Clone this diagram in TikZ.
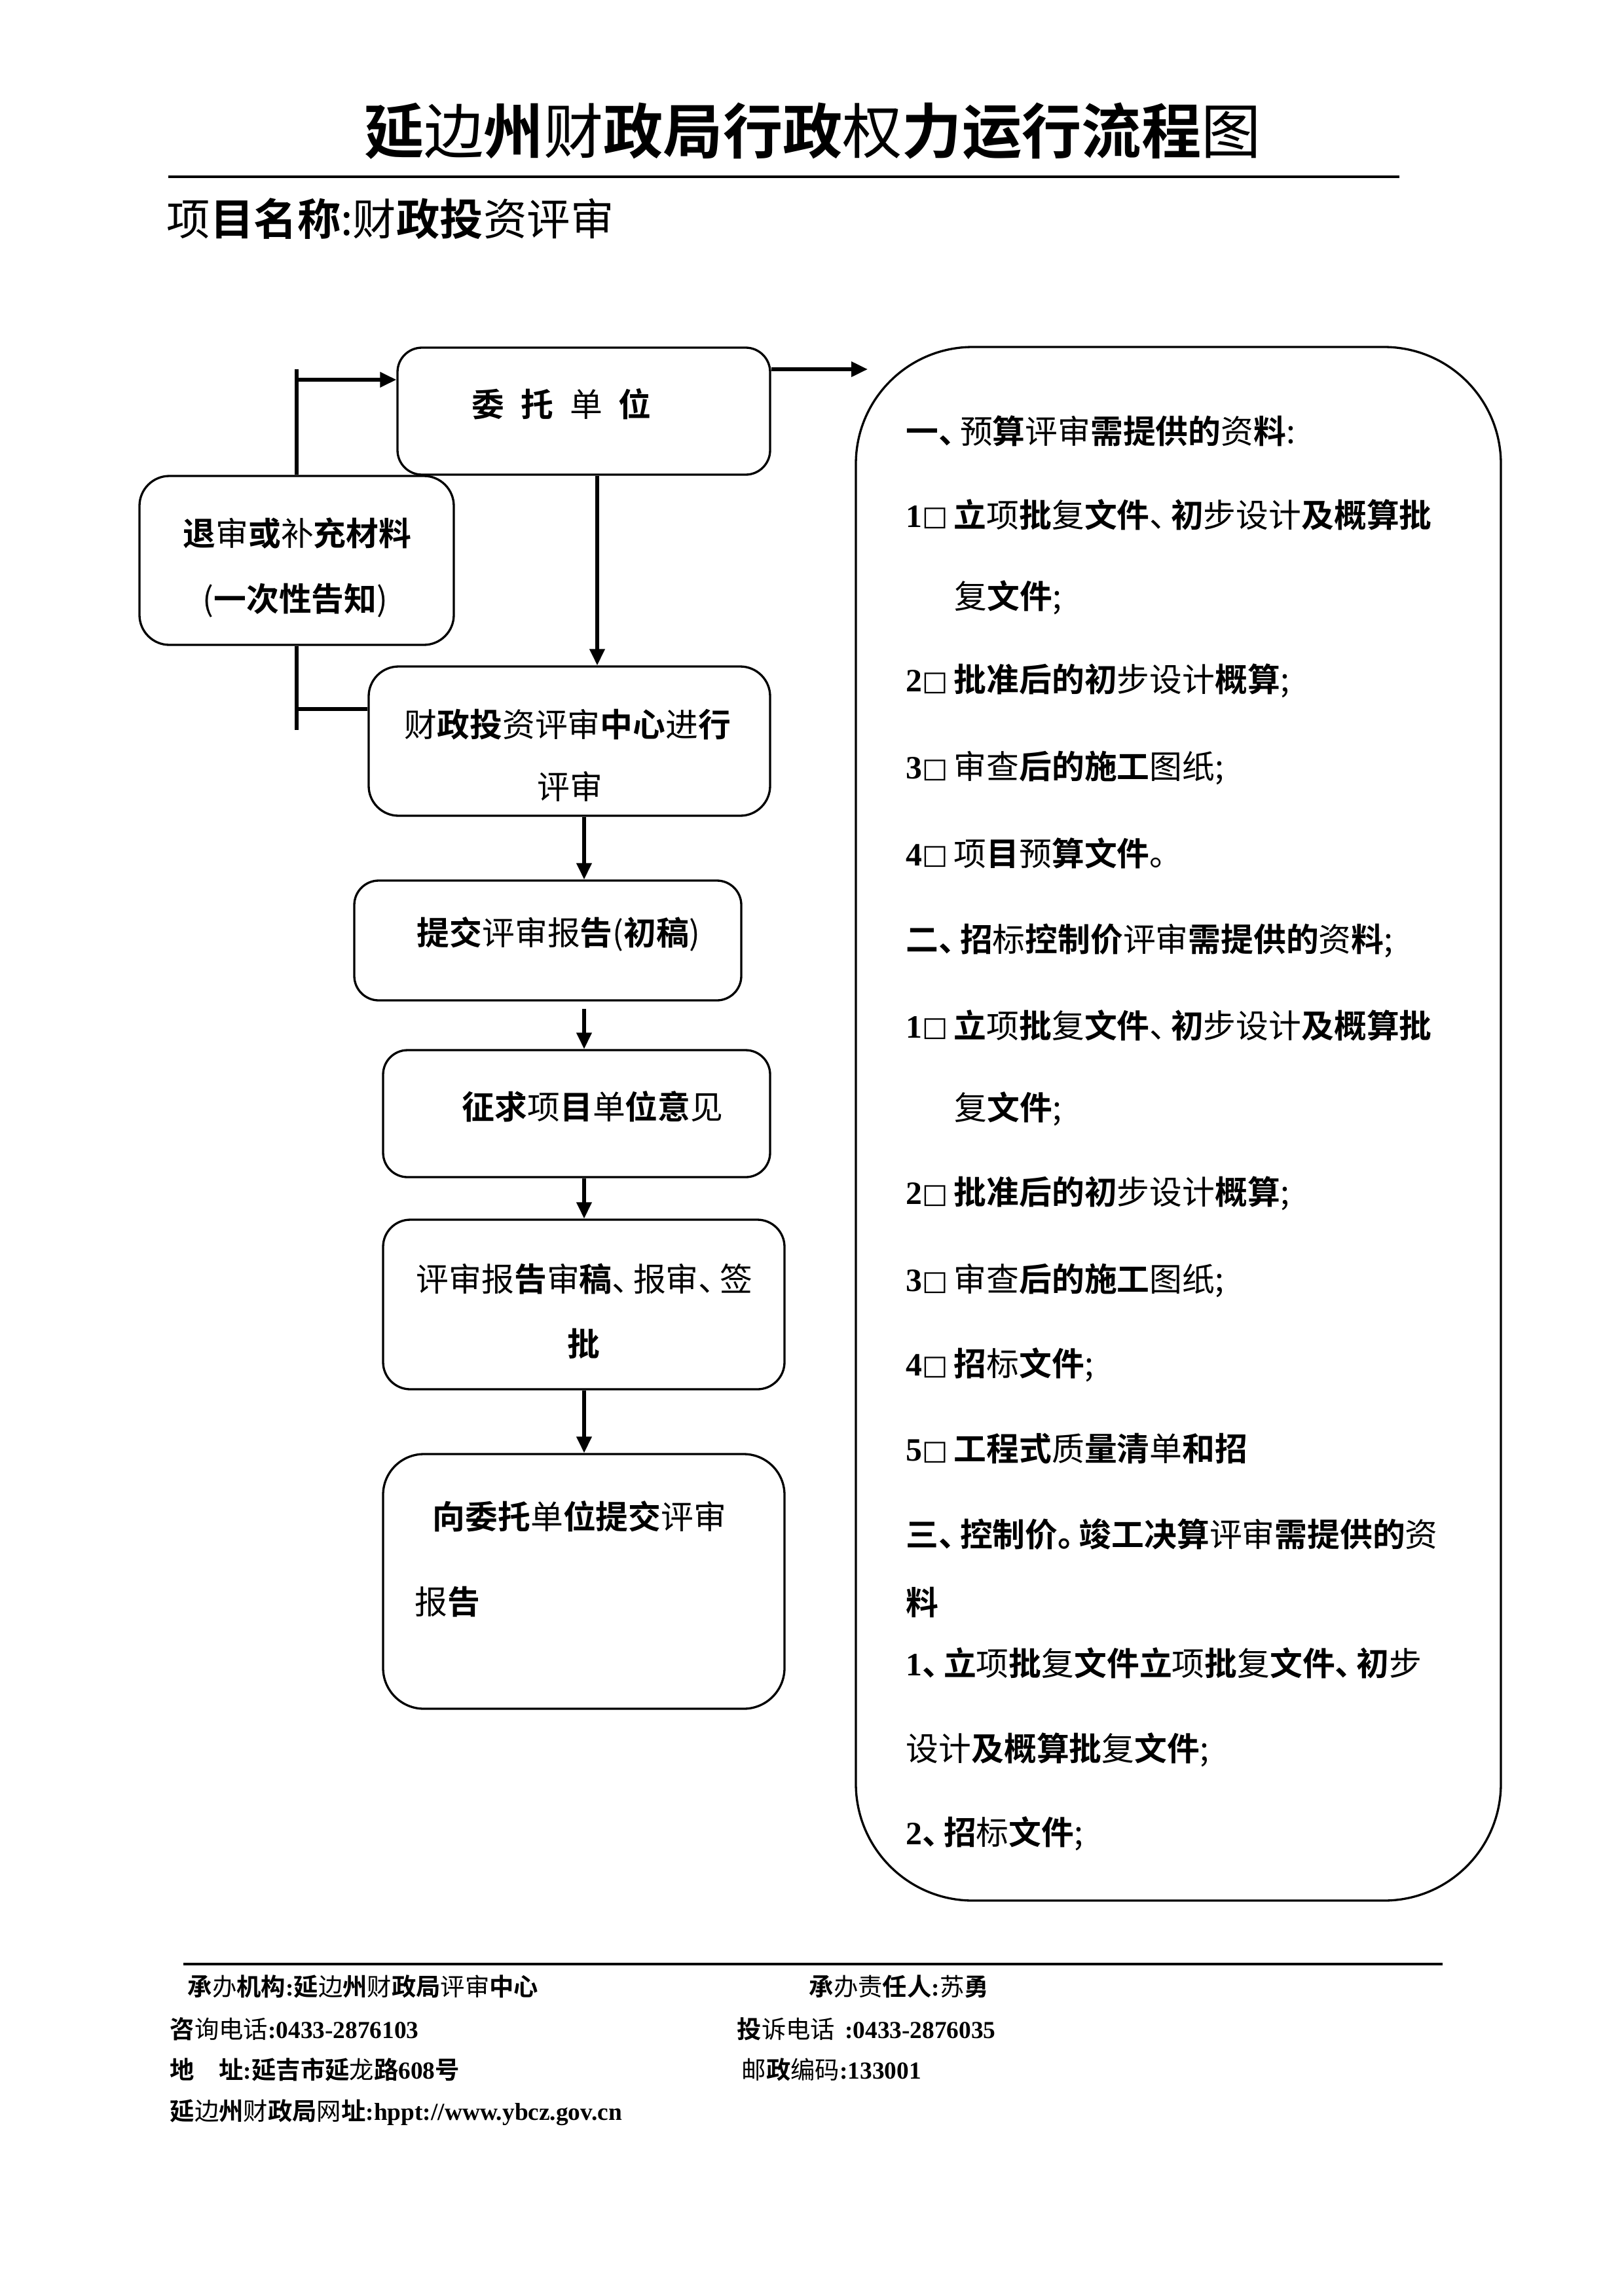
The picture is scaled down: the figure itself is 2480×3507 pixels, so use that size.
\documentclass[tikz,border=0pt]{standalone}
\usepackage{fontspec}
\setmainfont{Noto Sans CJK SC}[BoldFont={Noto Sans CJK SC Bold}]
\newfontfamily\tms{Liberation Serif}
\newfontfamily\dvs{DejaVu Sans}
\usetikzlibrary{arrows.meta,calc,fit}
\newcommand\fsz[1]{\fontsize{#1}{#1}\selectfont}
\newcommand\bd[1]{{\bfseries#1}}
\newcommand\pnc[1]{\makebox[0.65em][l]{#1}}
\newcommand\sqbox{\raisebox{0.6pt}{\dvs\fsz{10pt}□}}
\newcommand\numbx[1]{\makebox[17.6pt][l]{{\tms\bfseries #1}\sqbox}}
\newcommand\tc[1]{{\tms\bfseries #1}}
\begin{document}
\begin{tikzpicture}[x=0.0846774mm,y=-0.0846774mm,
  box/.style={draw, line width=0.8pt, rounded corners=9pt, fill=white, inner sep=0pt},
  txt/.style={inner sep=0pt, anchor=west, font={\fsz{12pt}}},
  ctxt/.style={inner sep=0pt, font={\fsz{12pt}}},
  ftxt/.style={inner sep=0pt, anchor=west, font={\fsz{9pt}}},
  con/.style={line width=1.3pt},
  arr/.style={con, -{Triangle[length=6pt,width=5.4pt]}}]
\useasboundingbox (0,0) rectangle (2480,3507);
% title
\node[inner sep=0pt, font={\fsz{22pt}}] (title) at (1241,200) {\bd{延}边\bd{州}财\bd{政局行政}权\bd{力运行流程}图};
\coordinate (tl1) at (257,270);
\coordinate (tl2) at (2137,270);
\draw[line width=1pt] (tl1) -- (tl2);
\node[inner sep=0pt, anchor=west, font={\fsz{16pt}}] (pname) at (254,334) {项\bd{目名称}:财\bd{政投}资评审};
% connectors on the left
\coordinate (vt) at (453,564);
\coordinate (vb) at (453,1115);
\coordinate (ha) at (453,580);
\coordinate (hb) at (453,1083);
\coordinate (ra) at (1325,564);
\coordinate (a1) at (912,0);
\coordinate (a2) at (892,0);
% boxes
\node[box, fit={(607,531)(1176,725)}] (wt) {};
\node[box, rounded corners=11pt, fit={(213,727)(693,985)}] (ts) {};
\node[box, rounded corners=11pt, fit={(563,1018)(1176,1246)}] (pj) {};
\node[box, fit={(541,1345)(1132,1528)}] (tj) {};
\node[box, fit={(585,1604)(1176,1798)}] (zq) {};
\node[box, rounded corners=10pt, fit={(585,1863)(1198,2122)}] (ps) {};
\node[box, rounded corners=15pt, fit={(585,2221)(1198,2610)}] (xw) {};
\node[box, rounded corners=43pt, fit={(1307,530)(2292,2903)}] (rb) {};
% connectors
\draw[con] (vt) -- (ts.north);
\draw[con] (ts.south) -- (vb);
\draw[arr] (ha) -- (ha -| wt.west);
\draw[con] (hb) -- (hb -| pj.west);
\draw[arr] (ra -| wt.east) -- (ra);
\draw[arr] (wt.south -| a1) -- (pj.north -| a1);
\draw[arr] (pj.south -| a2) -- (tj.north -| a2);
\draw[arr, shorten <=2.8pt] (tj.south -| a2) -- (zq.north -| a2);
\draw[arr] (zq.south -| a2) -- (ps.north -| a2);
\draw[arr] (ps.south -| a2) -- (xw.north -| a2);
% box texts
\node[txt] (wtt) at (720,617) {\bd{委}\hspace{0.5em}\bd{托}\hspace{0.5em}单\hspace{0.5em}\bd{位}};
\node[ctxt] (tst1) at (454,815) {\bd{退}审\bd{或}补\bd{充材料}};
\node[ctxt] (tst2) at (451,917) {(\bd{一次性告知})};
\node[txt] (pjt1) at (617,1107) {财\bd{政投}资评审\bd{中心}进\bd{行}};
\node[ctxt] (pjt2) at (870,1201) {评审};
\node[txt] (tjt) at (636,1427) {\bd{提交}评审报\bd{告}(\bd{初稿})};
\node[txt] (zqt) at (705,1690) {\bd{征求}项\bd{目}单\bd{位意}见};
\node[txt] (pst1) at (635,1953) {评审报\bd{告}审\bd{稿}\pnc{、}报审\pnc{、}签};
\node[ctxt] (pst2) at (891,2052) {\bd{批}};
\node[txt] (xwt1) at (660,2316) {\bd{向委托}单\bd{位提交}评审};
\node[txt] (xwt2) at (633,2447) {报\bd{告}};
% right box texts
\node[txt] (r1) at (1383,658) {\bd{一\pnc{、}}预\bd{算}评审\bd{需提供的}资\bd{料}:};
\node[txt] (r2) at (1383,786) {\numbx{1}\bd{立}项\bd{批}复\bd{文件}\pnc{、}\bd{初}步设计\bd{及概算批}};
\node[txt] (r3) at (1457,913) {复\bd{文件};};
\node[txt] (r4) at (1383,1040) {\numbx{2}\bd{批准后的初}步设计\bd{概算};};
\node[txt] (r5) at (1383,1173) {\numbx{3}审查\bd{后的施工}图纸;};
\node[txt] (r6) at (1383,1303) {\numbx{4}项\bd{目}预\bd{算文件}\pnc{。}};
\node[txt] (r7) at (1383,1437) {\bd{二\pnc{、}招}标\bd{控制价}评审\bd{需提供的}资\bd{料};};
\node[txt] (r8) at (1383,1566) {\numbx{1}\bd{立}项\bd{批}复\bd{文件}\pnc{、}\bd{初}步设计\bd{及概算批}};
\node[txt] (r9) at (1457,1694) {复\bd{文件};};
\node[txt] (r10) at (1383,1823) {\numbx{2}\bd{批准后的初}步设计\bd{概算};};
\node[txt] (r11) at (1383,1956) {\numbx{3}审查\bd{后的施工}图纸;};
\node[txt] (r12) at (1383,2085) {\numbx{4}\bd{招}标\bd{文件};};
\node[txt] (r13) at (1383,2213) {\numbx{5}\bd{工程式}质\bd{量清}单\bd{和招}};
\node[txt] (r14) at (1383,2343) {\bd{三\pnc{、}控制价\pnc{。}竣工决算}评审\bd{需提供的}资};
\node[txt] (r15) at (1383,2448) {\bd{料}};
\node[txt] (r16) at (1383,2540) {\bd{\tc{1}\pnc{、}立}项\bd{批}复\bd{文件立}项\bd{批}复\bd{文件\pnc{、}初}步};
\node[txt] (r17) at (1383,2673) {设计\bd{及概算批}复\bd{文件};};
\node[txt] (r18) at (1383,2801) {\bd{\tc{2}\pnc{、}招}标\bd{文件};};
% footer
\coordinate (fl1) at (280,3000);
\coordinate (fl2) at (2203,3000);
\draw[line width=0.9pt] (fl1) -- (fl2);
\node[ftxt] (f1) at (286,3034) {\bd{承}办\bd{机构}\tc{:}\bd{延}边\bd{州}财\bd{政局}评审\bd{中心}};
\node[ftxt] (f2) at (1235,3034) {\bd{承}办责\bd{任人}\tc{:}苏\bd{勇}};
\node[ftxt] (f3) at (259,3099) {\bd{咨}询电话\tc{:0433-2876103}};
\node[ftxt] (f4) at (1125,3099) {\bd{投}诉电话\hspace{0.4em}\tc{:0433-2876035}};
\node[ftxt] (f5) at (259,3161) {\bd{地}\hspace{1em}\bd{址}\tc{:}\bd{延吉市延}龙\bd{路}\tc{608}\bd{号}};
\node[ftxt] (f6) at (1132,3161) {邮\bd{政}编码\tc{:133001}};
\node[ftxt] (f7) at (259,3227) {\bd{延}边\bd{州}财\bd{政局}网\bd{址}\tc{:hppt://www.ybcz.gov.cn}};
\end{tikzpicture}
\end{document}
